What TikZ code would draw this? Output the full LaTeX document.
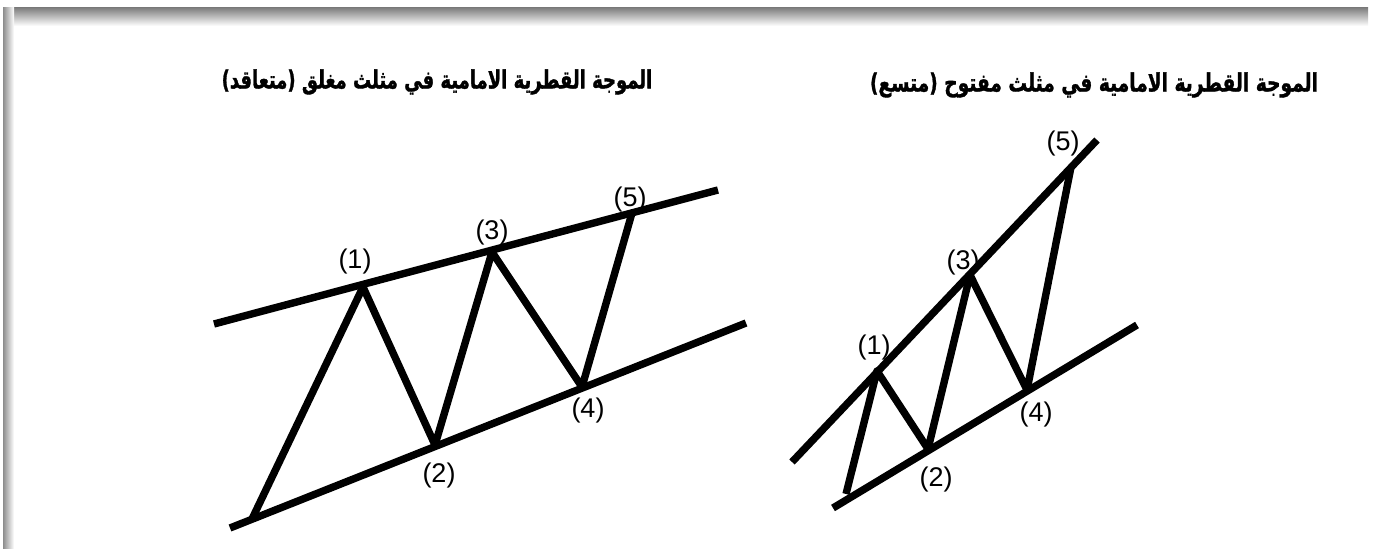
\documentclass[tikz,border=0pt]{standalone}
\usepackage{fontspec}
\TeXXeTstate=1
\newfontfamily\arabicfont[Script=Arabic,FakeBold=1.5]{DejaVu Sans Bold}
\newfontfamily\labelfont{Liberation Sans}
\usetikzlibrary{positioning}
\newcommand{\wavetitle}[2][0.72]{\scalebox{#1}[1]{\beginR #2\endR}}

\begin{document}
\begin{tikzpicture}[x=0.5pt, y=-0.5pt,
  trend/.style={line width=3.7pt},
  wave/.style={line width=3.7pt, line join=round},
  num/.style={font=\labelfont\fontsize{13.5}{15}\selectfont, inner sep=0pt},
  title/.style={font=\arabicfont\fontsize{12.5}{14}\selectfont, inner sep=0pt}
]
\useasboundingbox (0,0) rectangle (1380,549);
% frame shadow
\shade[top color=black!50, bottom color=white] (3,8) rectangle (1368,26);
\shade[left color=black!45, right color=white] (3,8) rectangle (14,549);

% titles
\node[title] (closedtitle) at (437,82) {\wavetitle{الموجة القطرية الامامية في مثلث مغلق (متعاقد)}};
\node[title] (opentitle) at (1094,85) {\wavetitle[0.745]{الموجة القطرية الامامية في مثلث مفتوح (متسع)}};

% closed (contracting) triangle
\coordinate (cu1) at (214,324);
\coordinate (cu2) at (718,190);
\coordinate (cl1) at (230,528);
\coordinate (cl2) at (746,323);
\coordinate (c0) at (252,519);
\coordinate (c1) at (363,287);
\coordinate (c2) at (435,445);
\coordinate (c3) at (492,252);
\coordinate (c4) at (582,387);
\coordinate (c5) at (632,213);
\draw[trend] (cu1) -- (cu2);
\draw[trend] (cl1) -- (cl2);
\draw[wave] (c0) -- (c1) -- (c2) -- (c3) -- (c4) -- (c5);
\node[num] (cn1) at (355,262) {(1)};
\node[num] (cn2) at (439,476) {(2)};
\node[num] (cn3) at (492,233) {(3)};
\node[num] (cn4) at (588,411) {(4)};
\node[num] (cn5) at (630,200) {(5)};

% open (expanding) triangle
\coordinate (ou1) at (792,462);
\coordinate (ou2) at (1097,140);
\coordinate (ol1) at (833,508);
\coordinate (ol2) at (1137,325);
\coordinate (o0) at (846,494);
\coordinate (o1) at (877,371);
\coordinate (o2) at (928,449);
\coordinate (o3) at (970,275);
\coordinate (o4) at (1027,390);
\coordinate (o5) at (1071,167);
\draw[trend] (ou1) -- (ou2);
\draw[trend] (ol1) -- (ol2);
\draw[wave] (o0) -- (o1) -- (o2) -- (o3) -- (o4) -- (o5);
\node[num] (on1) at (874,348) {(1)};
\node[num] (on2) at (936,480) {(2)};
\node[num] (on3) at (963,263) {(3)};
\node[num] (on4) at (1036,415) {(4)};
\node[num] (on5) at (1063,144) {(5)};
\end{tikzpicture}
\end{document}
